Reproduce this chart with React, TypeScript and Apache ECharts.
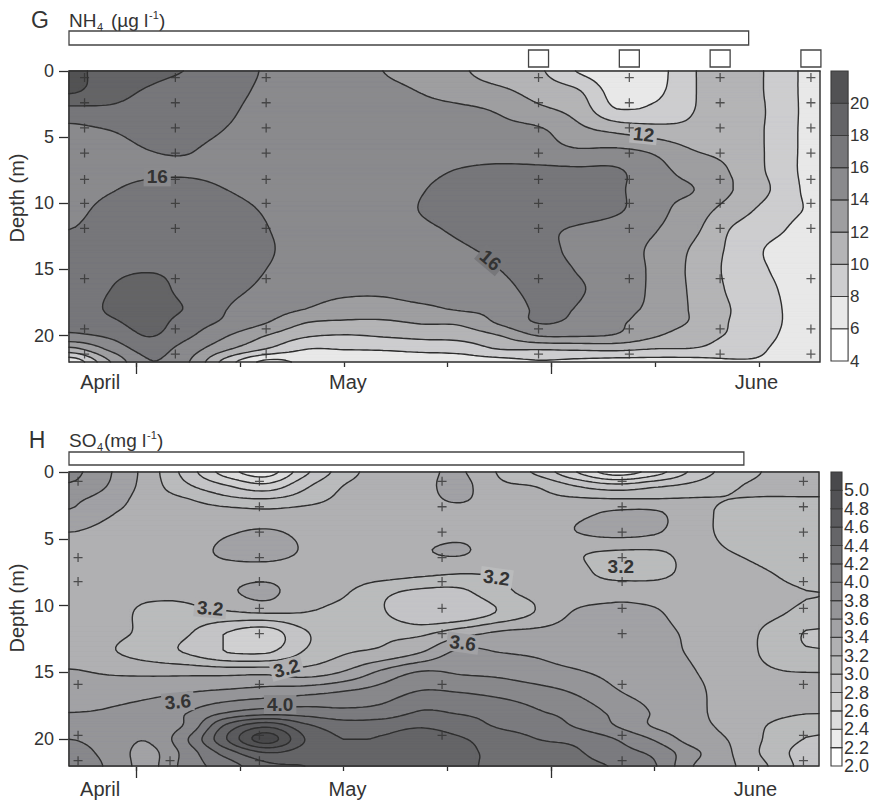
import { useEffect, useRef } from "react";
import * as echarts from "echarts";

const FONT = '"Liberation Sans", Arial, sans-serif';
const INK = "#2e2e2e";

// Shared time axis (day of year)
const DAY_MIN = 99.8;
const DAY_MAX = 157.7;
const GRID_DAYS = [100, 103, 106, 109, 112, 115, 118, 121, 124, 127, 130, 133, 136, 139, 142, 145, 148, 151, 154, 157];
const MONTH_NAMES = ["April", "May", "June"];
const MONTH_LABEL_DAYS = [102.2, 121.3, 152.8];
const TICK_DAYS = [105, 113, 121, 129, 137, 145, 153];
const LONG_TICK_DAYS = [105, 137];
const DEPTH_TICKS = [0, 5, 10, 15, 20];

// ---- NH4 (µg l-1) ----
const NH4_DEPTHS = [0, 1.5, 3, 4.5, 6, 7.5, 9, 10.5, 12, 13.5, 15, 16.5, 18, 19, 20, 21, 22];
const NH4_GRID = [
  [20.6, 19.0, 18.6, 17.9, 17.0, 15.8, 15.0, 15.0, 14.0, 13.3, 12.3, 10.9, 10.3, 7.9, 6.8, 7.2, 9.9, 11.0, 9.6, 7.4],
  [20.3, 18.7, 17.8, 17.0, 16.6, 15.6, 15.0, 15.0, 14.5, 13.9, 13.1, 12.4, 11.2, 10.2, 7.1, 7.5, 9.9, 11.0, 9.6, 7.4],
  [17.3, 17.6, 17.3, 17.0, 16.3, 15.3, 15.0, 15.0, 15.0, 14.6, 14.4, 13.8, 12.5, 11.3, 8.2, 8.6, 10.0, 11.0, 9.7, 7.4],
  [15.5, 16.0, 16.8, 16.8, 15.9, 15.2, 15.0, 15.0, 15.0, 15.0, 14.9, 14.5, 14.3, 12.6, 11.6, 10.8, 10.5, 11.2, 9.6, 7.4],
  [15.0, 15.3, 16.0, 16.1, 15.3, 15.0, 15.0, 15.0, 15.0, 15.2, 15.1, 14.9, 14.8, 14.2, 14.3, 13.6, 12.0, 11.4, 9.6, 7.4],
  [15.0, 15.4, 15.7, 15.8, 15.5, 15.0, 15.0, 15.0, 15.0, 15.5, 16.1, 16.5, 16.4, 16.3, 16.2, 14.6, 13.2, 11.8, 9.6, 7.4],
  [15.3, 15.9, 16.5, 16.5, 16.0, 15.3, 15.0, 15.0, 15.0, 15.9, 16.8, 17.2, 17.2, 17.1, 16.4, 14.5, 14.0, 12.0, 9.9, 7.5],
  [15.6, 16.5, 17.0, 17.0, 16.7, 15.8, 15.0, 15.0, 15.0, 16.1, 17.0, 17.4, 17.5, 17.2, 16.3, 14.6, 13.0, 11.0, 9.2, 7.8],
  [16.0, 16.8, 17.3, 17.2, 17.0, 16.1, 15.0, 15.0, 15.0, 15.6, 16.3, 16.6, 16.5, 15.7, 15.0, 14.1, 12.4, 9.8, 8.5, 7.2],
  [16.3, 17.2, 17.6, 17.5, 17.2, 16.3, 15.0, 15.0, 15.0, 15.2, 15.8, 16.3, 16.6, 15.5, 14.8, 13.6, 11.7, 9.5, 7.7, 7.0],
  [16.5, 17.6, 17.9, 17.6, 17.0, 16.0, 15.0, 15.0, 15.0, 15.0, 15.3, 16.0, 16.8, 15.9, 15.0, 13.6, 11.5, 9.4, 7.9, 7.0],
  [16.5, 18.0, 18.6, 17.4, 16.5, 15.6, 14.7, 14.4, 14.4, 14.9, 15.0, 15.4, 16.6, 16.2, 15.0, 13.6, 11.6, 9.6, 8.2, 7.0],
  [16.5, 18.3, 18.8, 17.8, 16.0, 15.0, 14.0, 13.3, 13.2, 13.6, 14.2, 14.6, 16.3, 15.9, 14.5, 13.6, 11.7, 9.9, 8.4, 7.0],
  [16.3, 17.6, 18.7, 17.0, 15.6, 14.1, 12.1, 11.7, 11.7, 12.2, 12.4, 14.3, 16.1, 15.5, 14.3, 13.2, 11.7, 9.8, 8.4, 7.0],
  [15.6, 16.4, 18.1, 16.3, 14.1, 12.0, 10.3, 9.9, 10.2, 10.6, 10.8, 12.0, 14.1, 14.2, 13.8, 12.2, 10.8, 9.7, 8.2, 7.0],
  [11.5, 14.5, 16.8, 15.0, 12.3, 10.0, 8.1, 8.1, 8.2, 8.5, 8.8, 10.1, 10.2, 10.4, 10.5, 10.0, 9.9, 9.0, 7.9, 7.0],
  [6.5, 12.0, 15.9, 14.1, 9.0, 5.5, 6.5, 7.0, 7.0, 7.0, 7.0, 7.2, 7.8, 7.5, 7.2, 7.2, 7.2, 7.8, 7.8, 7.0],
];
const NH4_LEVELS = [4, 6, 8, 10, 12, 14, 16, 18, 20, 22];
const NH4_FILLS = ["#ffffff", "#e8e8e8", "#cdcdcf", "#b4b4b6", "#9e9ea0", "#8a8a8d", "#77777a", "#646467", "#525254"];
const NH4_SAMPLE_DAYS = [101, 108, 115, 136, 143, 150, 157];
const NH4_SAMPLE_DEPTHS = [0.5, 2.4, 4.3, 6.2, 8.2, 10, 11.9, 15.7, 19.5, 21.4];
const NH4_ICE = [DAY_MIN, 152.2];
const NH4_OPEN_DAYS = [136, 143, 150, 157];
const NH4_LABEL_TEXT = ["16", "12", "16"];
const NH4_LABEL_DAY = [106.6, 144.1, 132.3];
const NH4_LABEL_DEPTH = [8.0, 4.8, 14.3];
const NH4_LABEL_ANGLE = [0, -6, -40];

// ---- SO4 (mg l-1) ----
const SO4_DEPTHS = [0, 1, 2, 3, 4.5, 6, 7.5, 9, 10.5, 12, 13.5, 15, 16.5, 18, 19, 20, 21, 22];
const SO4_GRID = [
  [3.85, 3.61, 3.3, 2.9, 2.5, 2.3, 2.75, 3.1, 3.3, 3.35, 3.42, 3.18, 2.95, 2.6, 2.3, 2.5, 2.85, 3.1, 3.22, 3.24],
  [3.78, 3.58, 3.3, 3.02, 2.8, 2.65, 2.95, 3.2, 3.3, 3.35, 3.45, 3.24, 3.18, 2.98, 2.85, 2.95, 3.05, 3.18, 3.23, 3.24],
  [3.64, 3.5, 3.3, 3.2, 3.05, 3.0, 3.1, 3.25, 3.3, 3.35, 3.42, 3.3, 3.25, 3.22, 3.2, 3.2, 3.21, 3.2, 3.19, 3.19],
  [3.58, 3.42, 3.32, 3.3, 3.28, 3.25, 3.28, 3.3, 3.3, 3.33, 3.35, 3.3, 3.3, 3.35, 3.42, 3.42, 3.28, 3.14, 3.1, 3.1],
  [3.4, 3.33, 3.3, 3.3, 3.38, 3.42, 3.36, 3.3, 3.3, 3.32, 3.35, 3.3, 3.3, 3.4, 3.46, 3.42, 3.27, 3.15, 3.1, 3.1],
  [3.3, 3.3, 3.3, 3.32, 3.44, 3.47, 3.38, 3.3, 3.3, 3.38, 3.42, 3.3, 3.27, 3.22, 3.18, 3.18, 3.25, 3.2, 3.1, 3.1],
  [3.3, 3.28, 3.28, 3.3, 3.32, 3.33, 3.3, 3.3, 3.3, 3.26, 3.22, 3.22, 3.24, 3.25, 3.12, 3.14, 3.26, 3.3, 3.2, 3.12],
  [3.3, 3.27, 3.25, 3.25, 3.36, 3.46, 3.25, 3.22, 3.05, 2.95, 2.95, 3.15, 3.25, 3.3, 3.35, 3.32, 3.3, 3.3, 3.25, 3.2],
  [3.3, 3.28, 3.15, 3.15, 3.18, 3.22, 3.2, 3.15, 3.02, 2.8, 2.82, 3.02, 3.22, 3.42, 3.43, 3.42, 3.3, 3.3, 3.24, 3.15],
  [3.3, 3.25, 3.15, 3.02, 2.8, 2.7, 2.98, 3.12, 3.16, 3.15, 3.3, 3.42, 3.45, 3.48, 3.5, 3.46, 3.36, 3.3, 3.15, 2.98],
  [3.3, 3.22, 3.1, 2.98, 2.8, 2.78, 3.02, 3.18, 3.25, 3.4, 3.65, 3.6, 3.57, 3.52, 3.5, 3.46, 3.38, 3.3, 3.15, 3.02],
  [3.42, 3.38, 3.36, 3.35, 3.34, 3.35, 3.3, 3.42, 3.65, 3.82, 3.78, 3.75, 3.68, 3.62, 3.55, 3.5, 3.41, 3.3, 3.22, 3.2],
  [3.5, 3.52, 3.55, 3.6, 3.65, 3.7, 3.75, 3.82, 3.9, 4.02, 4.0, 3.95, 3.88, 3.78, 3.62, 3.53, 3.45, 3.3, 3.28, 3.28],
  [3.6, 3.62, 3.68, 3.8, 4.0, 4.1, 4.1, 4.05, 4.08, 4.22, 4.18, 4.12, 4.02, 3.92, 3.75, 3.58, 3.45, 3.32, 3.26, 3.21],
  [3.7, 3.65, 3.68, 3.85, 4.45, 4.75, 4.45, 4.3, 4.32, 4.38, 4.3, 4.18, 4.12, 3.98, 3.8, 3.58, 3.45, 3.35, 3.18, 3.05],
  [3.8, 3.7, 3.62, 4.0, 4.6, 5.1, 4.6, 4.4, 4.42, 4.5, 4.42, 4.3, 4.2, 4.15, 4.0, 3.78, 3.5, 3.38, 3.15, 2.98],
  [3.9, 3.72, 3.55, 3.9, 4.3, 4.6, 4.5, 4.45, 4.45, 4.55, 4.45, 4.35, 4.28, 4.22, 4.08, 3.95, 3.65, 3.4, 3.12, 2.9],
  [4.0, 3.75, 3.55, 3.9, 4.1, 4.35, 4.4, 4.45, 4.48, 4.55, 4.45, 4.35, 4.3, 4.25, 4.18, 4.02, 3.6, 3.42, 3.18, 2.9],
];
const SO4_LEVELS = [2.0, 2.2, 2.4, 2.6, 2.8, 3.0, 3.2, 3.4, 3.6, 3.8, 4.0, 4.2, 4.4, 4.6, 4.8, 5.0, 5.2];
const SO4_FILLS = [
  "#ffffff", "#ebebeb", "#dcdcdd", "#d0d0d1", "#c4c4c6", "#babbbc", "#b0b0b2", "#a2a2a5",
  "#959598", "#88888b", "#7c7c7f", "#707073", "#656568", "#5b5b5e", "#525255", "#49494c",
];
const SO4_SAMPLES: number[][] = [
  [100.5, 0.7], [100.5, 6.4], [100.5, 8.2], [100.5, 15.9], [100.5, 19.7], [100.5, 21.6],
  [107.6, 21.6],
  [114.5, 0.7], [114.5, 2.6], [114.5, 4.5], [114.5, 6.4], [114.5, 8.2], [114.5, 10.2], [114.5, 12.1], [114.5, 15.9], [114.5, 19.7], [114.5, 21.6],
  [128.6, 0.7], [128.6, 2.6], [128.6, 4.5], [128.6, 6.4], [128.6, 8.2], [128.6, 10.2], [128.6, 12.1], [128.6, 15.9], [128.6, 19.7],
  [142.5, 0.7], [142.5, 2.6], [142.5, 4.5], [142.5, 6.4], [142.5, 8.2], [142.5, 10.2], [142.5, 12.1], [142.5, 15.9], [142.5, 19.7], [142.5, 21.6],
  [156.5, 0.7], [156.5, 2.6], [156.5, 4.5], [156.5, 6.4], [156.5, 8.2], [156.5, 10.2], [156.5, 12.1], [156.5, 15.9], [156.5, 19.7], [156.5, 21.6],
];
const SO4_ICE = [DAY_MIN, 151.9];
const SO4_LABEL_TEXT = ["3.2", "3.2", "3.6", "4.0", "3.2", "3.2", "3.6"];
const SO4_LABEL_DAY = [110.7, 116.6, 108.2, 116.1, 132.8, 142.4, 130.2];
const SO4_LABEL_DEPTH = [10.2, 14.7, 17.2, 17.4, 7.9, 7.1, 12.8];
const SO4_LABEL_ANGLE = [-5, 15, 5, 0, -8, 0, -8];

// ---------- contouring helpers ----------
type Fine = { days: number[]; depths: number[]; F: number[][] };

function catmull(p0: number, p1: number, p2: number, p3: number, t: number) {
  const t2 = t * t;
  const t3 = t2 * t;
  return 0.5 * (2 * p1 + (-p0 + p2) * t + (2 * p0 - 5 * p1 + 4 * p2 - p3) * t2 + (-p0 + 3 * p1 - 3 * p2 + p3) * t3);
}

function refine(days: number[], depths: number[], values: number[][], sx: number, sy: number): Fine {
  const nr = values.length;
  const nc = values[0].length;
  const get = (r: number, c: number) => values[Math.max(0, Math.min(nr - 1, r))][Math.max(0, Math.min(nc - 1, c))];
  const FR = (nr - 1) * sy + 1;
  const FC = (nc - 1) * sx + 1;
  const F: number[][] = [];
  const fDepths: number[] = [];
  const fDays: number[] = [];
  for (let j = 0; j < FC; j++) {
    const c = Math.min(Math.floor(j / sx), nc - 2);
    const t = j / sx - c;
    fDays.push(days[c] + t * (days[c + 1] - days[c]));
  }
  fDays[0] = DAY_MIN;
  fDays[FC - 1] = DAY_MAX;
  for (let i = 0; i < FR; i++) {
    const r = Math.min(Math.floor(i / sy), nr - 2);
    const tr = i / sy - r;
    fDepths.push(depths[r] + tr * (depths[r + 1] - depths[r]));
    const row: number[] = [];
    for (let j = 0; j < FC; j++) {
      const c = Math.min(Math.floor(j / sx), nc - 2);
      const tc = j / sx - c;
      const col: number[] = [];
      for (let k = -1; k <= 2; k++) {
        col.push(catmull(get(r + k, c - 1), get(r + k, c), get(r + k, c + 1), get(r + k, c + 2), tc));
      }
      let v = catmull(col[0], col[1], col[2], col[3], tr);
      const a = get(r, c), b = get(r, c + 1), d = get(r + 1, c), e = get(r + 1, c + 1);
      v = Math.max(Math.min(a, b, d, e), Math.min(Math.max(a, b, d, e), v));
      row.push(v);
    }
    F.push(row);
  }
  return { days: fDays, depths: fDepths, F };
}

const f1 = (n: number) => n.toFixed(1);

function bandPath(F: number[][], xs: number[], ys: number[], t: number) {
  const out: string[] = [];
  const R = F.length;
  const C = F[0].length;
  const rect = (x0: number, y0: number, x1: number, y1: number) =>
    `M${f1(x0)} ${f1(y0)}H${f1(x1)}V${f1(y1)}H${f1(x0)}Z`;
  for (let i = 0; i < R - 1; i++) {
    const y0 = ys[i];
    const y1 = ys[i + 1];
    let run = -1;
    for (let j = 0; j < C - 1; j++) {
      const a = F[i][j], b = F[i][j + 1], c = F[i + 1][j + 1], e = F[i + 1][j];
      const ia = a >= t, ib = b >= t, ic = c >= t, ie = e >= t;
      if (ia && ib && ic && ie) {
        if (run < 0) run = j;
        continue;
      }
      if (run >= 0) {
        out.push(rect(xs[run], y0, xs[j], y1));
        run = -1;
      }
      if (!ia && !ib && !ic && !ie) continue;
      const corners = [
        [xs[j], y0, a],
        [xs[j + 1], y0, b],
        [xs[j + 1], y1, c],
        [xs[j], y1, e],
      ];
      const pts: string[] = [];
      for (let k = 0; k < 4; k++) {
        const P = corners[k];
        const Q = corners[(k + 1) % 4];
        const pin = P[2] >= t;
        const qin = Q[2] >= t;
        if (pin) pts.push(`${f1(P[0])} ${f1(P[1])}`);
        if (pin !== qin) {
          const s = (t - P[2]) / (Q[2] - P[2]);
          pts.push(`${f1(P[0] + s * (Q[0] - P[0]))} ${f1(P[1] + s * (Q[1] - P[1]))}`);
        }
      }
      out.push("M" + pts.join("L") + "Z");
    }
    if (run >= 0) out.push(rect(xs[run], y0, xs[C - 1], y1));
  }
  return out.join("");
}

function linePath(F: number[][], xs: number[], ys: number[], t: number) {
  const out: string[] = [];
  const R = F.length;
  const C = F[0].length;
  for (let i = 0; i < R - 1; i++) {
    for (let j = 0; j < C - 1; j++) {
      const a = F[i][j], b = F[i][j + 1], c = F[i + 1][j + 1], e = F[i + 1][j];
      const ia = a >= t, ib = b >= t, ic = c >= t, ie = e >= t;
      if (ia === ib && ib === ic && ic === ie) continue;
      const x0 = xs[j], x1 = xs[j + 1], y0 = ys[i], y1 = ys[i + 1];
      const cross = (va: number, vb: number, pa: number[], pb: number[]) => {
        const s = (t - va) / (vb - va);
        return [pa[0] + s * (pb[0] - pa[0]), pa[1] + s * (pb[1] - pa[1])];
      };
      const top = ia !== ib ? cross(a, b, [x0, y0], [x1, y0]) : null;
      const right = ib !== ic ? cross(b, c, [x1, y0], [x1, y1]) : null;
      const bottom = ic !== ie ? cross(c, e, [x1, y1], [x0, y1]) : null;
      const left = ie !== ia ? cross(e, a, [x0, y1], [x0, y0]) : null;
      const seg = (p: number[], q: number[]) => out.push(`M${f1(p[0])} ${f1(p[1])}L${f1(q[0])} ${f1(q[1])}`);
      const pts = [top, right, bottom, left].filter(Boolean) as number[][];
      if (pts.length === 2) {
        seg(pts[0], pts[1]);
      } else if (pts.length === 4) {
        const mid = (a + b + c + e) / 4 >= t;
        if (ia !== mid) seg(top!, left!);
        if (ib !== mid) seg(top!, right!);
        if (ic !== mid) seg(right!, bottom!);
        if (ie !== mid) seg(bottom!, left!);
      }
    }
  }
  return out.join("");
}

function bandColor(v: number, levels: number[], fills: string[]) {
  for (let k = fills.length - 1; k >= 0; k--) if (v >= levels[k]) return fills[k];
  return fills[0];
}

function nearestIndex(arr: number[], v: number) {
  let best = 0;
  for (let i = 1; i < arr.length; i++) if (Math.abs(arr[i] - v) < Math.abs(arr[best] - v)) best = i;
  return best;
}

type PanelSpec = {
  fine: Fine;
  levels: number[];
  fills: string[];
  labelText: string[];
  labelDay: number[];
  labelDepth: number[];
  labelAngle: number[];
  ice: number[];
  iceTop: number;
  iceHeight: number;
  openDays: number[];
};

function renderPanel(spec: PanelSpec, api: any) {
  const { fine, levels, fills } = spec;
  const xs = fine.days.map((d) => api.coord([d, 0])[0]);
  const ys = fine.depths.map((z) => api.coord([DAY_MIN, z])[1]);
  const x0 = xs[0], x1 = xs[xs.length - 1], y0 = ys[0], y1 = ys[ys.length - 1];
  const children: any[] = [];
  children.push({
    type: "rect",
    shape: { x: x0, y: y0, width: x1 - x0, height: y1 - y0 },
    style: { fill: fills[0] },
  });
  for (let k = 1; k < fills.length; k++) {
    const d = bandPath(fine.F, xs, ys, levels[k]);
    if (!d) continue;
    children.push({
      type: "path",
      shape: { pathData: d },
      style: { fill: fills[k], stroke: fills[k], lineWidth: 0.9, lineJoin: "round" },
    });
  }
  for (let k = 1; k < levels.length - 1; k++) {
    const d = linePath(fine.F, xs, ys, levels[k]);
    if (!d) continue;
    children.push({
      type: "path",
      shape: { pathData: d },
      style: { fill: "none", stroke: INK, lineWidth: 1.4, lineCap: "round", lineJoin: "round" },
    });
  }
  spec.labelText.forEach((text, i) => {
    const p = api.coord([spec.labelDay[i], spec.labelDepth[i]]);
    const fi = nearestIndex(fine.depths, spec.labelDepth[i]);
    const fj = nearestIndex(fine.days, spec.labelDay[i]);
    const bg = bandColor(fine.F[fi][fj], levels, fills);
    children.push({
      type: "text",
      x: p[0],
      y: p[1],
      rotation: (spec.labelAngle[i] * Math.PI) / 180,
      style: {
        text,
        font: `bold 19px ${FONT}`,
        fill: "#333333",
        align: "center",
        verticalAlign: "middle",
        backgroundColor: bg,
        padding: [0, 3, 0, 3],
      },
    });
  });
  children.push({
    type: "rect",
    shape: { x: x0, y: y0, width: x1 - x0, height: y1 - y0 },
    style: { fill: "none", stroke: INK, lineWidth: 1.4 },
  });
  // ice-cover bar above the panel and open-water boxes
  const iceL = api.coord([spec.ice[0], 0])[0];
  const iceR = api.coord([spec.ice[1], 0])[0];
  children.push({
    type: "rect",
    shape: { x: iceL, y: y0 + spec.iceTop, width: iceR - iceL, height: spec.iceHeight },
    style: { fill: "#ffffff", stroke: "#444444", lineWidth: 1.3 },
  });
  spec.openDays.forEach((d) => {
    const cx = api.coord([d, 0])[0];
    children.push({
      type: "rect",
      shape: { x: cx - 10, y: y0 - 21, width: 20, height: 17 },
      style: { fill: "#ffffff", stroke: "#444444", lineWidth: 1.3 },
    });
  });
  return { type: "group", children };
}

function renderBar(levels: number[], fills: string[]) {
  return (params: any, api: any) => {
    const k = params.dataIndex;
    const p0 = api.coord([0, levels[k]]);
    const p1 = api.coord([1, levels[k + 1]]);
    return {
      type: "rect",
      shape: { x: p0[0], y: p1[1], width: p1[0] - p0[0], height: p0[1] - p1[1] },
      style: { fill: fills[k], stroke: "#3a3a3a", lineWidth: 1.1 },
    };
  };
}

const PLUS = "path://M4.3 0h1.4v4.3h4.3v1.4h-4.3v4.3h-1.4v-4.3h-4.3v-1.4h4.3z";

// One axis carries the line and month names; two overlay axes carry the short and long ticks.
function timeAxes(gridIndex: number, labelMargin: number) {
  const base = { type: "value", gridIndex, position: "bottom", offset: 0, min: DAY_MIN, max: DAY_MAX, splitLine: { show: false } };
  const tickAxis = (values: number[], length: number) => ({
    ...base,
    axisLine: { show: false },
    axisLabel: { show: false },
    axisTick: { show: true, inside: false, length, customValues: values, lineStyle: { color: INK, width: 1.3 } },
  });
  return [
    {
      ...base,
      axisLine: { show: true, lineStyle: { color: INK, width: 1.4 } },
      axisTick: { show: false },
      axisLabel: {
        customValues: MONTH_LABEL_DAYS,
        formatter: (v: number) => MONTH_NAMES[nearestIndex(MONTH_LABEL_DAYS, v)],
        fontSize: 20,
        fontFamily: FONT,
        color: "#333333",
        margin: labelMargin,
      },
    },
    tickAxis(TICK_DAYS, 5),
    tickAxis(LONG_TICK_DAYS, 12),
  ];
}

function depthAxis(gridIndex: number) {
  return {
    type: "value",
    gridIndex,
    position: "left",
    inverse: true,
    min: 0,
    max: 22,
    axisLine: { show: true, lineStyle: { color: INK, width: 1.4 } },
    axisTick: { show: true, inside: false, length: 10, customValues: DEPTH_TICKS, lineStyle: { color: INK, width: 1.3 } },
    axisLabel: { customValues: DEPTH_TICKS, fontSize: 18, fontFamily: FONT, color: "#333333", margin: 15 },
    splitLine: { show: false },
  };
}

function scaleAxis(gridIndex: number, levels: number[], digits: number, fontSize: number) {
  return {
    type: "value",
    gridIndex,
    position: "right",
    min: levels[0],
    max: levels[levels.length - 1],
    axisLine: { show: false },
    axisTick: { show: false },
    axisLabel: {
      customValues: levels.slice(0, -1),
      formatter: (v: number) => v.toFixed(digits),
      fontSize,
      fontFamily: FONT,
      color: "#333333",
      margin: 2,
    },
    splitLine: { show: false },
  };
}

function titleTexts(letter: string, main: string, sub: string, rest: string, cy: number, letterX: number, subX: number, restX: number, supX: number, closeX: number) {
  const base = { fill: "#333333", verticalAlign: "middle", textVerticalAlign: "middle" };
  return [
    { type: "text", x: letterX, y: cy, style: { ...base, text: letter, font: `23px ${FONT}`, align: "center", textAlign: "center" } },
    { type: "text", x: 69, y: cy, style: { ...base, text: main, font: `19px ${FONT}`, align: "left", textAlign: "left" } },
    { type: "text", x: subX, y: cy + 7, style: { ...base, text: sub, font: `11px ${FONT}`, align: "left", textAlign: "left" } },
    { type: "text", x: restX, y: cy, style: { ...base, text: rest, font: `19px ${FONT}`, align: "left", textAlign: "left" } },
    { type: "text", x: supX, y: cy - 5, style: { ...base, text: "-1", font: `11px ${FONT}`, align: "left", textAlign: "left" } },
    { type: "text", x: closeX, y: cy, style: { ...base, text: ")", font: `19px ${FONT}`, align: "left", textAlign: "left" } },
  ];
}

export default function App() {
  const ref = useRef<HTMLDivElement>(null);

  useEffect(() => {
    if (!ref.current) return;
    const chart = echarts.init(ref.current, undefined, { renderer: "svg" });

    const nh4Fine = refine(GRID_DAYS, NH4_DEPTHS, NH4_GRID, 10, 8);
    const so4Fine = refine(GRID_DAYS, SO4_DEPTHS, SO4_GRID, 10, 8);

    const nh4Spec: PanelSpec = {
      fine: nh4Fine, levels: NH4_LEVELS, fills: NH4_FILLS,
      labelText: NH4_LABEL_TEXT, labelDay: NH4_LABEL_DAY, labelDepth: NH4_LABEL_DEPTH, labelAngle: NH4_LABEL_ANGLE,
      ice: NH4_ICE, iceTop: -40, iceHeight: 14, openDays: NH4_OPEN_DAYS,
    };
    const so4Spec: PanelSpec = {
      fine: so4Fine, levels: SO4_LEVELS, fills: SO4_FILLS,
      labelText: SO4_LABEL_TEXT, labelDay: SO4_LABEL_DAY, labelDepth: SO4_LABEL_DEPTH, labelAngle: SO4_LABEL_ANGLE,
      ice: SO4_ICE, iceTop: -20, iceHeight: 13, openDays: [],
    };

    const nh4Samples: number[][] = [];
    NH4_SAMPLE_DAYS.forEach((d) => NH4_SAMPLE_DEPTHS.forEach((z) => nh4Samples.push([d, z])));

    const option: any = {
      animation: false,
      backgroundColor: "#ffffff",
      grid: [
        { left: 69, top: 71, width: 751, height: 291 },
        { left: 69, top: 472, width: 750, height: 294 },
        { left: 831, top: 71, width: 19, height: 290 },
        { left: 831, top: 472, width: 18, height: 294 },
      ],
      xAxis: [
        ...timeAxes(0, 10),
        ...timeAxes(1, 13),
        { type: "value", gridIndex: 2, min: 0, max: 1, show: false },
        { type: "value", gridIndex: 3, min: 0, max: 1, show: false },
      ],
      yAxis: [depthAxis(0), depthAxis(1), scaleAxis(2, NH4_LEVELS, 0, 17), scaleAxis(3, SO4_LEVELS, 1, 18)],
      series: [
        {
          type: "custom", xAxisIndex: 0, yAxisIndex: 0, silent: true, clip: false, z: 1,
          data: [[DAY_MIN, 0]],
          renderItem: (_p: any, api: any) => renderPanel(nh4Spec, api),
        },
        {
          type: "scatter", xAxisIndex: 0, yAxisIndex: 0, silent: true, z: 3,
          symbol: PLUS, symbolSize: 9, itemStyle: { color: "#333333" },
          data: nh4Samples,
        },
        {
          type: "custom", xAxisIndex: 3, yAxisIndex: 1, silent: true, clip: false, z: 1,
          data: [[DAY_MIN, 0]],
          renderItem: (_p: any, api: any) => renderPanel(so4Spec, api),
        },
        {
          type: "scatter", xAxisIndex: 3, yAxisIndex: 1, silent: true, z: 3,
          symbol: PLUS, symbolSize: 9, itemStyle: { color: "#333333" },
          data: SO4_SAMPLES,
        },
        {
          type: "custom", xAxisIndex: 6, yAxisIndex: 2, silent: true, clip: false,
          data: NH4_FILLS.map((_, k) => [0, NH4_LEVELS[k]]),
          renderItem: renderBar(NH4_LEVELS, NH4_FILLS),
        },
        {
          type: "custom", xAxisIndex: 7, yAxisIndex: 3, silent: true, clip: false,
          data: SO4_FILLS.map((_, k) => [0, SO4_LEVELS[k]]),
          renderItem: renderBar(SO4_LEVELS, SO4_FILLS),
        },
      ],
      graphic: [
        ...titleTexts("G", "NH", "4", "(µg l", 20, 40, 97, 111, 149, 159),
        ...titleTexts("H", "SO", "4", "(mg l", 440, 37, 97, 104, 147, 157),
        {
          type: "text", x: 17, y: 198, rotation: Math.PI / 2,
          style: { text: "Depth (m)", font: `20px ${FONT}`, fill: "#333333", align: "center", verticalAlign: "middle", textAlign: "center", textVerticalAlign: "middle" },
        },
        {
          type: "text", x: 17, y: 608, rotation: Math.PI / 2,
          style: { text: "Depth (m)", font: `20px ${FONT}`, fill: "#333333", align: "center", verticalAlign: "middle", textAlign: "center", textVerticalAlign: "middle" },
        },
      ],
    };

    chart.setOption(option);
    return () => chart.dispose();
  }, []);

  return (
    <div
      ref={ref}
      style={{ position: "fixed", left: 0, top: 0, width: 872, height: 800, background: "#ffffff" }}
    />
  );
}
